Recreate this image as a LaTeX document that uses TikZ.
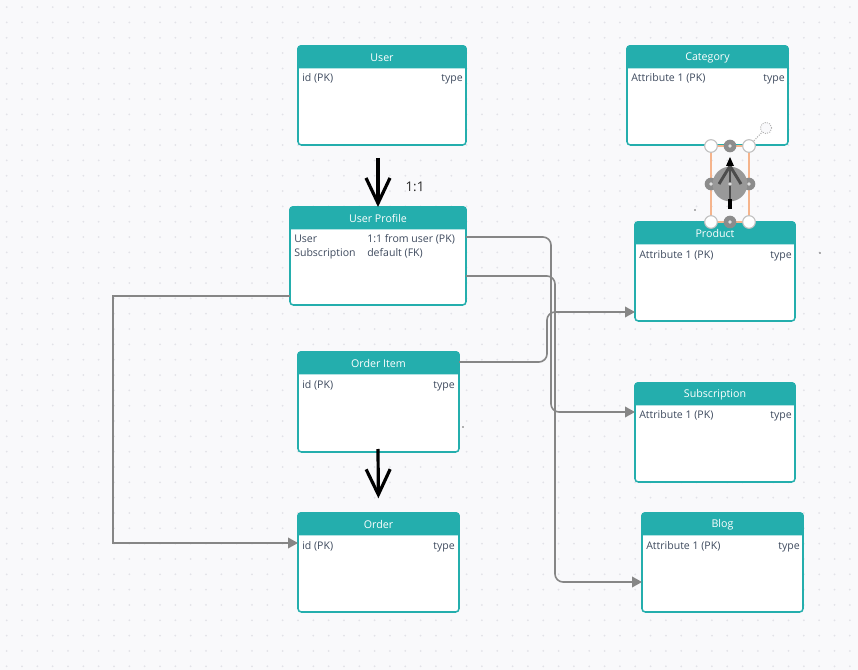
\documentclass[tikz,border=0pt]{standalone}
\usepackage{fontspec}
\setmainfont{Open Sans}
\usetikzlibrary{arrows.meta}
\definecolor{bgc}{HTML}{F9F9FB}
\definecolor{dotc}{HTML}{E2E2E8}
\definecolor{tealc}{HTML}{24AEAD}
\definecolor{txtc}{HTML}{3E4A5E}
\definecolor{linkc}{HTML}{868686}
\definecolor{orangec}{HTML}{F5B48C}
\tikzset{
  box/.style={draw=tealc,line width=1.15pt,fill=white,rounded corners=2.5pt,inner sep=0pt,outer sep=0pt},
  title/.style={text=white,font=\fontsize{8}{10}\selectfont,inner sep=0pt},
  cell/.style={text=txtc,font=\fontsize{7.9}{10}\selectfont,inner sep=0pt},
  link/.style={draw=linkc,line width=1.2pt,rounded corners=6pt,-{Triangle[length=7.5pt,width=8pt,fill=linkc]}},
  plainlink/.style={draw=linkc,line width=1.2pt,-{Triangle[length=7.5pt,width=8pt,fill=linkc]}},
  bigarrow/.style={draw=black,line width=2.4pt,-{Straight Barb[length=19pt,width=18pt,line width=2.4pt]}},
  handlew/.style={circle,draw=black!25,line width=0.8pt,fill=white,minimum size=9.5pt,inner sep=0pt},
  handleg/.style={circle,fill=black!45,minimum size=9.5pt,inner sep=0pt},
}
\newcommand{\tbl}[6]{%
  \node[box,minimum width={(#4-#2)*0.75pt},minimum height={(#5-#3)*0.75pt}] (#1) at ({(#2+#4)/2},{(#3+#5)/2}) {};
  \fill[tealc] (#2-0.8,#3+22.5) [rounded corners=2.5pt] -- (#2-0.8,#3-0.8) -- (#4+0.8,#3-0.8) [sharp corners] -- (#4+0.8,#3+22.5) -- cycle;
  \node[title] (#1t) at ({(#2+#4)/2},#3+11.5) {#6};
}
\begin{document}
\begin{tikzpicture}[x=0.75pt,y=-0.75pt]
\useasboundingbox (0,0) rectangle (858,670);
\fill[bgc] (0,0) rectangle (858,670);
\foreach \i in {0,...,55} \foreach \j in {0,...,43}
  \fill[dotc] ({6.7+15.33*\i},{7.1+15.33*\j}) circle (0.75pt);

\tbl{user}{298}{46}{466}{145}{User}
\node[cell,anchor=base west] (userl) at (302,82) {id (PK)};
\node[cell,anchor=base east] (userr) at (463,82) {type};

\tbl{cat}{627}{46}{788}{145}{Category}
\node[cell,anchor=base west] (catl) at (631,82) {Attribute 1 (PK)};
\node[cell,anchor=base east] (catr) at (785,82) {type};

\tbl{up}{290}{207}{466}{305}{User Profile}
\node[cell,anchor=base west] (upa) at (294,243) {User};
\node[cell,anchor=base west] (upb) at (294,257) {Subscription};
\node[cell,anchor=base west] (upc) at (367,243) {1:1 from user (PK)};
\node[cell,anchor=base west] (upd) at (367,257) {default (FK)};

\tbl{prod}{635}{222}{795}{321}{Product}
\node[cell,anchor=base west] (prodl) at (639,259) {Attribute 1 (PK)};
\node[cell,anchor=base east] (prodr) at (792,259) {type};

\tbl{oi}{298}{352}{459}{452}{Order Item}
\node[cell,anchor=base west] (oil) at (302,389) {id (PK)};
\node[cell,anchor=base east] (oir) at (455,389) {type};

\tbl{sub}{635}{383}{795}{482}{Subscription}
\node[cell,anchor=base west] (subl) at (639,419) {Attribute 1 (PK)};
\node[cell,anchor=base east] (subr) at (792,419) {type};

\tbl{ord}{298}{513}{459}{612}{Order}
\node[cell,anchor=base west] (ordl) at (302,550) {id (PK)};
\node[cell,anchor=base east] (ordr) at (455,550) {type};

\tbl{blog}{642}{513}{803}{612}{Blog}
\node[cell,anchor=base west] (blogl) at (646,550) {Attribute 1 (PK)};
\node[cell,anchor=base east] (blogr) at (800,550) {type};

% grey connectors
\draw[link] (up.east |- 0,237) -- (551,237) -- (551,412) -- (sub.west |- 0,412);
\draw[link] (up.east |- 0,276) -- (555,276) -- (555,582) -- (blog.west |- 0,582);
\draw[link] (oi.east |- 0,362) -- (547,362) -- (547,312) -- (prod.west |- 0,312);
\draw[plainlink] (up.west |- 0,296) -- (113,296) -- (113,543) -- (ord.west |- 0,543);

% black arrows
\coordinate (a1) at (378,158);
\draw[bigarrow] (a1) -- (up.north);
\node[text=black!85,font=\fontsize{10}{12}\selectfont,inner sep=0pt] (lab) at (415,187) {1:1};
\coordinate (a2) at (378,449);
\draw[bigarrow,shorten >=11pt] (a2) -- (ord.north);

% selected connector widget
\coordinate (wc) at (730,184);
\coordinate (wr) at (766,128);
\draw[orangec,line width=1pt] (711,146) rectangle (749,222);
\node[handleg] (hl) at (711,184) {};
\node[handleg] (hr) at (749,184) {};
\node[handleg] (ht) at (730,146) {};
\node[handleg] (hb) at (730,222) {};
\fill[black!40] (wc) circle (13pt);
\draw[black!70,line width=2.2pt,line cap=butt] (719,184) -- (730,166) -- (741,184);
\draw[black!70,line width=2.2pt] (730,166) -- (730,199);
\draw[black,line width=2.4pt] (730,199) -- (730,209);
\fill[black] (730,157) -- (734,166) -- (726,166) -- cycle;
\foreach \p in {wc,hl,hr,ht,hb} \fill[black!12] (\p) circle (1.4pt);
\draw[black!30,line width=0.8pt,densely dotted] (749,146) -- (wr);
\node[handlew] (h1) at (711,146) {};
\node[handlew] (h2) at (749,146) {};
\node[handlew] (h3) at (711,222) {};
\node[handlew] (h4) at (749,222) {};
\node[circle,draw=black!30,line width=0.7pt,densely dotted,fill=bgc,minimum size=8.5pt,inner sep=0pt] (h5) at (wr) {};

% stray specks
\fill[black!60] (695,210) circle (0.6pt);
\fill[black!60] (820,253) circle (0.6pt);
\fill[black!60] (463,427) circle (0.6pt);
\end{tikzpicture}
\end{document}
